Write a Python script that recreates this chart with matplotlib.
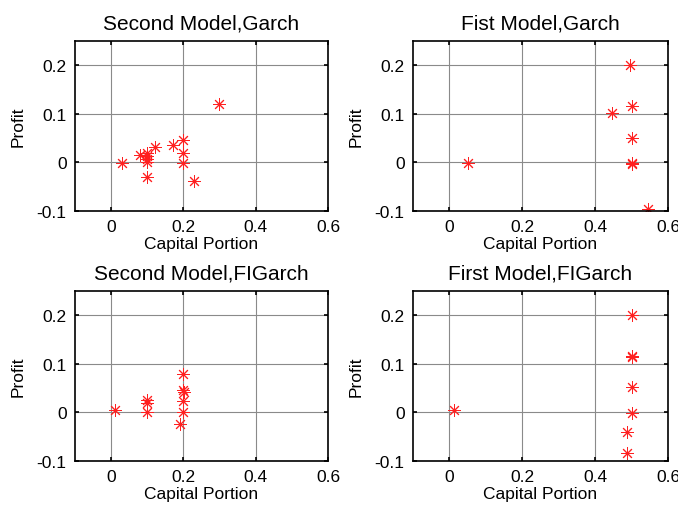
import matplotlib
matplotlib.use("Agg")
import matplotlib.pyplot as plt

plt.rcParams['font.family'] = ['Liberation Sans', 'DejaVu Sans']

titles = ["Second Model,Garch", "Fist Model,Garch",
          "Second Model,FIGarch", "First Model,FIGarch"]

x_sg = [0.03, 0.08, 0.098, 0.10, 0.10, 0.10, 0.10, 0.12, 0.17, 0.20, 0.20, 0.20, 0.23, 0.298]
y_sg = [-0.002, 0.016, 0.020, 0.014, 0.007, 0.000, -0.029, 0.031, 0.036, 0.046, 0.020, -0.001, -0.038, 0.120]

x_fg = [0.05, 0.447, 0.497, 0.50, 0.50, 0.50, 0.50, 0.545]
y_fg = [-0.002, 0.102, 0.200, 0.116, 0.051, -0.001, -0.004, -0.096]

x_sf = [0.012, 0.098, 0.10, 0.10, 0.20, 0.20, 0.202, 0.20, 0.20, 0.19]
y_sf = [0.005, 0.026, 0.020, 0.000, 0.080, 0.046, 0.042, 0.023, 0.000, -0.024]

x_ff = [0.013, 0.50, 0.50, 0.50, 0.50, 0.50, 0.488, 0.488]
y_ff = [0.005, 0.200, 0.117, 0.114, 0.052, -0.001, -0.041, -0.083]

xs = [x_sg, x_fg, x_sf, x_ff]
ys = [y_sg, y_fg, y_sf, y_ff]

xticks = [0, 0.2, 0.4, 0.6]
xtick_labels = ["0", "0.2", "0.4", "0.6"]
yticks = [-0.1, 0, 0.1, 0.2]
ytick_labels = ["-0.1", "0", "0.1", "0.2"]

W, H = 678, 506
fig = plt.figure(figsize=(W / 100, H / 100), dpi=100)

# axes boxes in pixels: left, top, right, bottom
boxes = [(75, 42, 328, 212), (413, 42, 668, 212),
         (75, 292, 328, 462), (413, 292, 668, 462)]

for (l, t, r, b), title, x, y in zip(boxes, titles, xs, ys):
    ax = fig.add_axes([l / W, 1 - b / H, (r - l) / W, (b - t) / H])
    ax.plot(x, y, linestyle='none', marker=(8, 2, 0), color='#ff2020',
            markersize=9, markeredgewidth=0.7)
    ax.set_xlim(-0.1, 0.6)
    ax.set_ylim(-0.1, 0.25)
    ax.set_xticks(xticks)
    ax.set_xticklabels(xtick_labels)
    ax.set_yticks(yticks)
    ax.set_yticklabels(ytick_labels)
    ax.grid(True, color='#8a8a8a', linewidth=0.8)
    ax.set_axisbelow(True)
    ax.tick_params(direction='in', top=True, right=True, length=3,
                   labelsize=12.5, pad=6, width=1.2)
    for sp in ax.spines.values():
        sp.set_linewidth(1.2)
    ax.set_title(title, fontsize=15, pad=9)
    ax.set_xlabel("Capital Portion", fontsize=12.5, labelpad=1)
    ax.set_ylabel("Profit", fontsize=12.5, labelpad=8)

fig.savefig("out.png", dpi=100)
